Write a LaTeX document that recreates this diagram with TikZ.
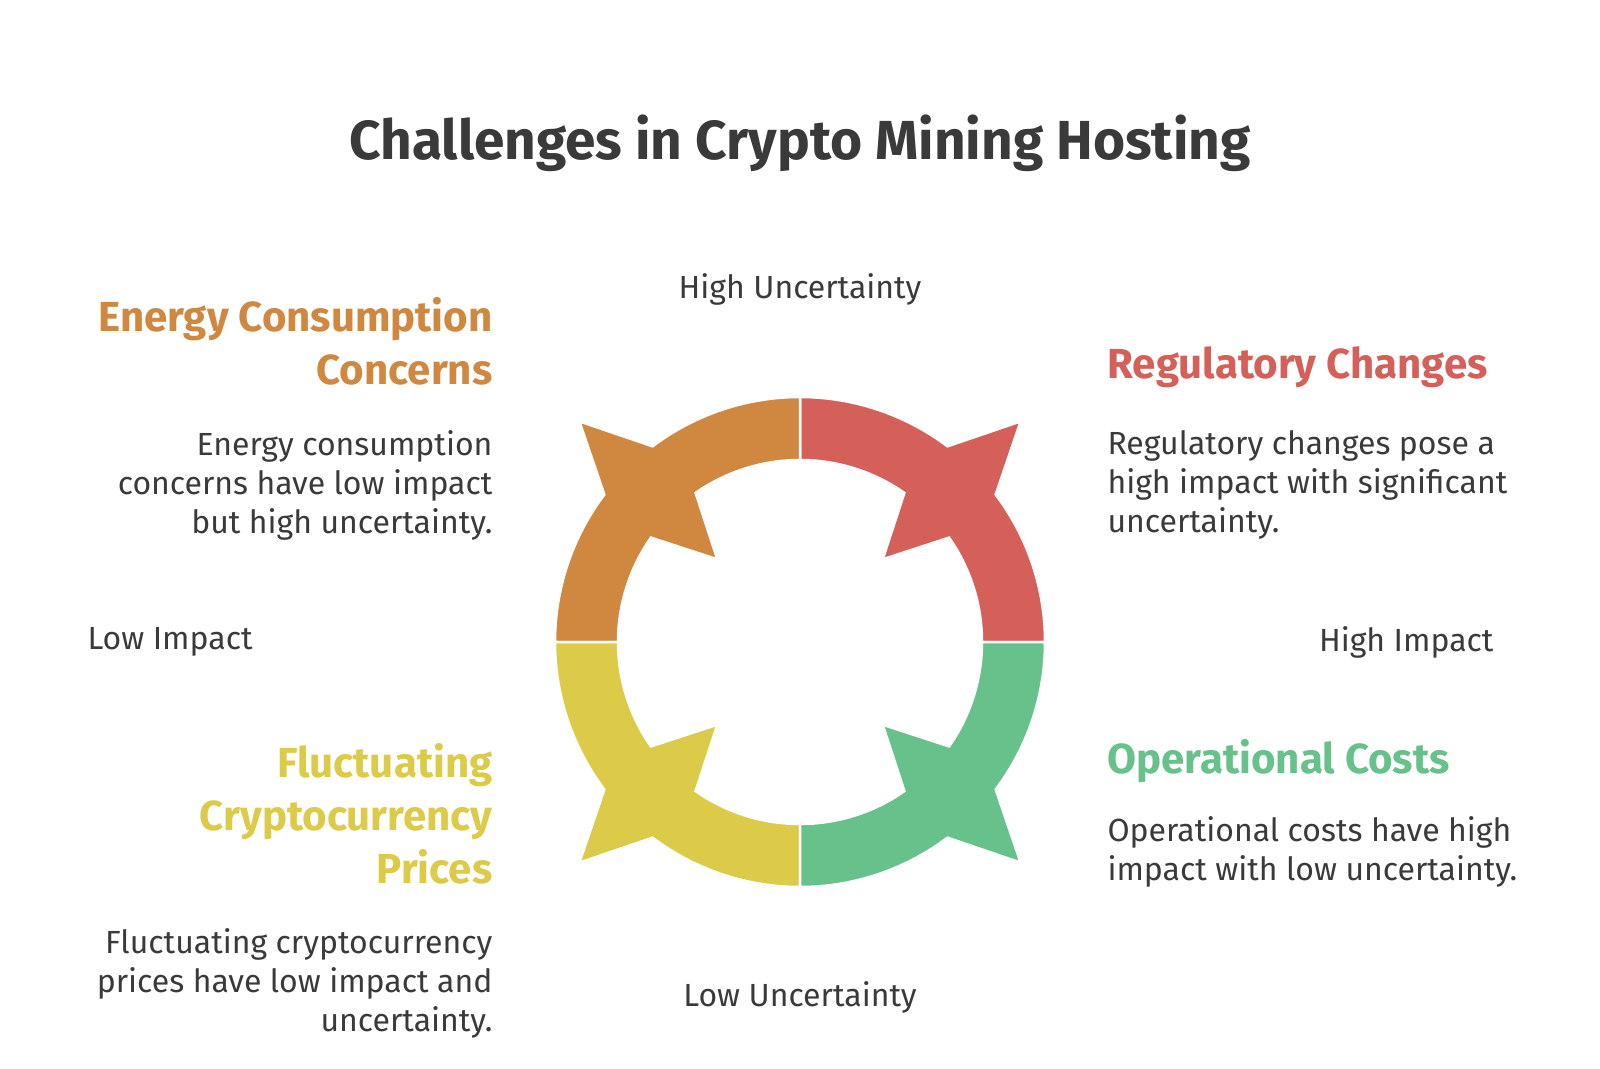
\documentclass[tikz,border=0pt]{standalone}
\usepackage{fontspec}
\usetikzlibrary{calc}
\setmainfont{Fira Sans}
\definecolor{corange}{HTML}{D0873F}
\definecolor{cred}{HTML}{D5605A}
\definecolor{cyellow}{HTML}{DCCB48}
\definecolor{cgreen}{HTML}{67C18A}
\definecolor{ctext}{HTML}{3A3A3A}
\begin{document}
\begin{tikzpicture}[x=1pt,y=-1pt,
  desc/.style={text=ctext,font=\fontsize{32}{39}\selectfont},
  ttl/.style={font=\fontsize{42}{53}\selectfont\bfseries},
  axis/.style={text=ctext,font=\fontsize{32}{36}\selectfont},
  seg/.style={draw=white,line width=2.5pt}]
\useasboundingbox (0,0) rectangle (1600,1068);
\fill[white] (0,0) rectangle (1600,1068);
\coordinate (c) at (800,642);
\foreach \t/\col in {45/cred,135/corange,225/cyellow,315/cgreen}{
  \pgfmathsetmacro{\a}{\t+45}\pgfmathsetmacro{\b}{\t+8}\pgfmathsetmacro{\d}{\t-8}
  \pgfmathsetmacro{\e}{\t-45}\pgfmathsetmacro{\f}{\t-10}\pgfmathsetmacro{\g}{\t+10}
  \fill[\col,seg] ($(c)+({245*cos(\a)},{-245*sin(\a)})$)
    arc[start angle=-\a,end angle=-\b,radius=245]
    -- ($(c)+({312*cos(\t)},{-312*sin(\t)})$)
    -- ($(c)+({245*cos(\d)},{-245*sin(\d)})$)
    arc[start angle=-\d,end angle=-\e,radius=245]
    -- ($(c)+({182*cos(\e)},{-182*sin(\e)})$)
    arc[start angle=-\e,end angle=-\f,radius=182]
    -- ($(c)+({117*cos(\t)},{-117*sin(\t)})$)
    -- ($(c)+({182*cos(\g)},{-182*sin(\g)})$)
    arc[start angle=-\g,end angle=-\a,radius=182] -- cycle;
}
\node[text=ctext,font=\fontsize{55}{62}\selectfont\bfseries] (title) at (800,143) {Challenges in Crypto Mining Hosting};
\node[axis] (hu) at (800,289) {High Uncertainty};
\node[axis] (lu) at (800,997) {Low Uncertainty};
\node[axis,anchor=west] (li) at (84,642) {Low Impact};
\node[axis,anchor=east] (hi) at (1497,642) {High Impact};
\node[ttl,text=corange,align=right,anchor=east] (t1) at (496,341) {Energy Consumption\\Concerns};
\node[desc,align=right,anchor=east] (d1) at (496,485) {Energy consumption\\concerns have low impact\\but high uncertainty.};
\node[ttl,text=cred,align=left,anchor=west] (t2) at (1104,367) {Regulatory Changes};
\node[desc,align=left,anchor=west] (d2) at (1104,485) {Regulatory changes pose a\\high impact with significant\\uncertainty.};
\node[ttl,text=cyellow,align=right,anchor=east] (t3) at (496,814) {Fluctuating\\Cryptocurrency\\Prices};
\node[desc,align=right,anchor=east] (d3) at (496,983) {Fluctuating cryptocurrency\\prices have low impact and\\uncertainty.};
\node[ttl,text=cgreen,align=left,anchor=west] (t4) at (1104,761) {Operational Costs};
\node[desc,align=left,anchor=west] (d4) at (1104,852) {Operational costs have high\\impact with low uncertainty.};
\end{tikzpicture}
\end{document}
